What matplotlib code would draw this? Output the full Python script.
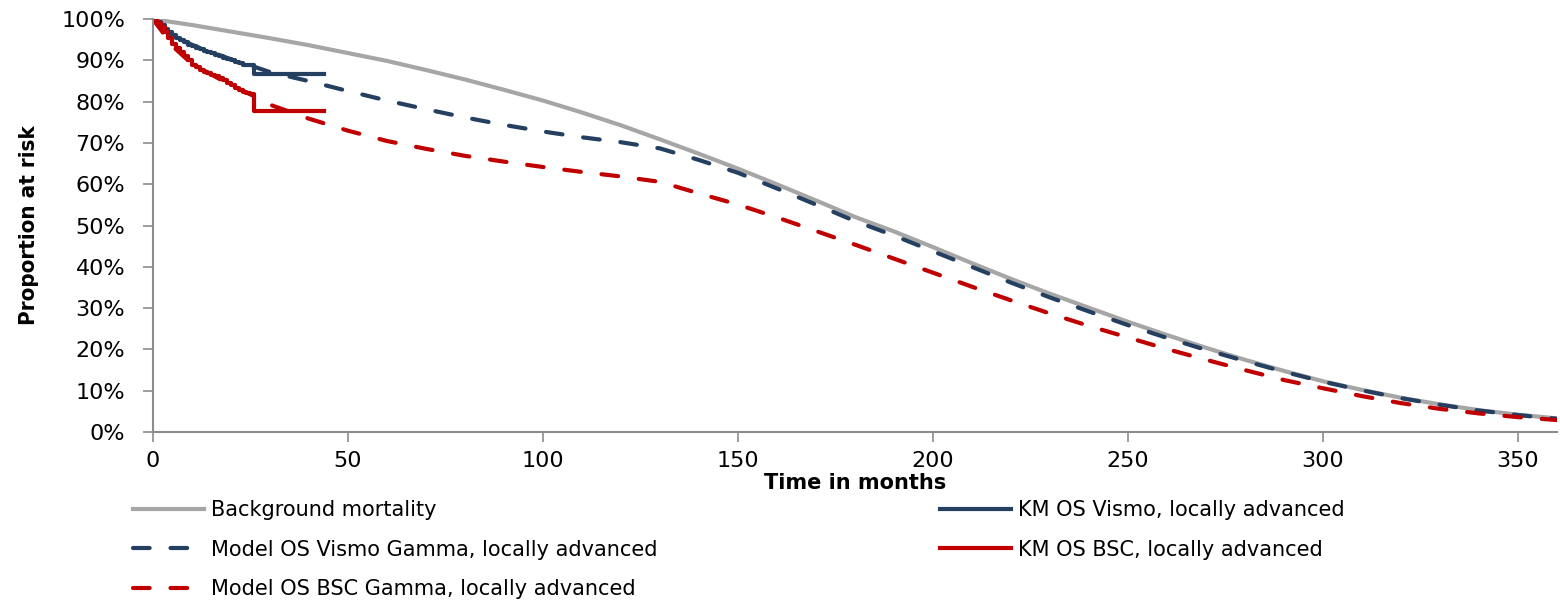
import matplotlib
matplotlib.use("Agg")
import matplotlib.pyplot as plt
from matplotlib.ticker import PercentFormatter

# background mortality
bg_months = list(range(0, 361, 10))
bg_surv = [100, 98.6, 97.0, 95.4, 93.7, 91.8, 89.9, 87.7, 85.4, 82.9,
           80.3, 77.4, 74.3, 70.9, 67.4, 63.8, 60.0, 56.1, 52.1, 48.6,
           44.8, 40.9, 37.1, 33.5, 30.1, 26.7, 23.5, 20.4, 17.5, 14.8,
           12.3, 10.2, 8.3, 6.7, 5.3, 4.2, 3.3]

# model curves
model_months = [0, 2, 5, 10, 15, 20, 25, 30] + list(range(40, 361, 10))
model_vismo = [100, 98, 96, 93.8, 92, 90.3, 88.8, 87.2,
               85.0, 82.6, 80.3, 78.2, 76.2, 74.4, 72.8, 71.4, 70.2, 68.7,
               65.9, 62.8, 59.0, 55.1, 51.1, 47.6, 43.8, 40.0, 36.2, 32.6,
               29.2, 25.9, 22.8, 19.9, 17.2, 14.6, 12.2, 10.1, 8.2, 6.6,
               5.2, 4.1, 3.2]
model_bsc = [100, 97.5, 93.5, 89.2, 86.6, 84.0, 81.8, 79.3,
             75.9, 73.0, 70.5, 68.6, 66.9, 65.5, 64.2, 63.0, 61.9, 60.6,
             57.8, 55.1, 52.0, 48.7, 45.4, 42.0, 38.6, 35.2, 31.9, 28.7,
             25.7, 22.9, 20.1, 17.5, 15.0, 12.6, 10.6, 8.7, 7.0, 5.6,
             4.5, 3.6, 2.9]

# Kaplan-Meier step data
km_months = [0, 1, 2, 3, 4, 5, 6, 7, 8, 9, 10, 11, 12, 13, 14, 15, 16, 17,
             18, 19, 20, 21, 22, 23, 24, 25, 26, 44]
km_vismo = [100, 99.3, 98.5, 97.6, 96.8, 96.2, 95.5, 95.0, 94.4, 93.8, 93.4,
            93.0, 92.7, 92.3, 92.0, 91.7, 91.3, 91.0, 90.7, 90.3, 90.0, 89.6,
            89.3, 89.0, 89.0, 88.8, 86.7, 86.7]
km_bsc = [100, 99.2, 98.0, 97.0, 95.5, 94.0, 93.0, 92.0, 91.0, 90.0, 89.0,
          88.3, 87.8, 87.3, 86.9, 86.5, 86.2, 85.8, 85.2, 84.6, 84.0, 83.4,
          82.8, 82.4, 82.1, 82.0, 77.7, 77.7]

GRAY = "#A6A6A6"
BLUE = "#243F60"
RED = "#C00000"
dash = (4.0, 5.0)

fig = plt.figure(figsize=(15.6, 6), dpi=100)
ax = fig.add_axes([0.098, 0.28, 0.9, 0.688])

l_bg, = ax.plot(bg_months, bg_surv, color=GRAY, lw=3, label="Background mortality")
l_mv, = ax.plot(model_months, model_vismo, color=BLUE, lw=3, dashes=dash,
                dash_capstyle="round", label="Model OS Vismo Gamma, locally advanced")
l_mb, = ax.plot(model_months, model_bsc, color=RED, lw=3, dashes=dash,
                dash_capstyle="round", label="Model OS BSC Gamma, locally advanced")
l_kv, = ax.plot(km_months, km_vismo, color=BLUE, lw=3, drawstyle="steps-post",
                label="KM OS Vismo, locally advanced")
l_kb, = ax.plot(km_months, km_bsc, color=RED, lw=3, drawstyle="steps-post",
                label="KM OS BSC, locally advanced")

ax.set_xlim(0, 360)
ax.set_ylim(0, 100)
ax.set_xticks(range(0, 351, 50))
ax.set_yticks(range(0, 101, 10))
ax.yaxis.set_major_formatter(PercentFormatter(xmax=100, decimals=0))
for s in ["top", "right"]:
    ax.spines[s].set_visible(False)
for s in ["left", "bottom"]:
    ax.spines[s].set_color("#8C8C8C")
    ax.spines[s].set_linewidth(1.5)
ax.tick_params(axis="both", colors="#8C8C8C", length=7, width=1.2,
               labelcolor="black", labelsize=16)
ax.tick_params(axis="y", pad=13)
ax.tick_params(axis="x", pad=7)

ax.set_xlabel("Time in months", fontsize=15, fontweight="bold", labelpad=1)
ax.set_ylabel("Proportion at risk", fontsize=16, fontweight="bold",
              fontstretch="condensed", labelpad=16)

leg_kw = dict(frameon=False, fontsize=15, handlelength=3.4, handletextpad=0.35,
              labelspacing=0.95, borderpad=0, borderaxespad=0, loc="upper left")
fig.legend(handles=[l_bg, l_mv, l_mb], bbox_to_anchor=(0.0853, 0.167), **leg_kw)
fig.legend(handles=[l_kv, l_kb], bbox_to_anchor=(0.6026, 0.167), **leg_kw)

fig.savefig("out.png", dpi=100)
